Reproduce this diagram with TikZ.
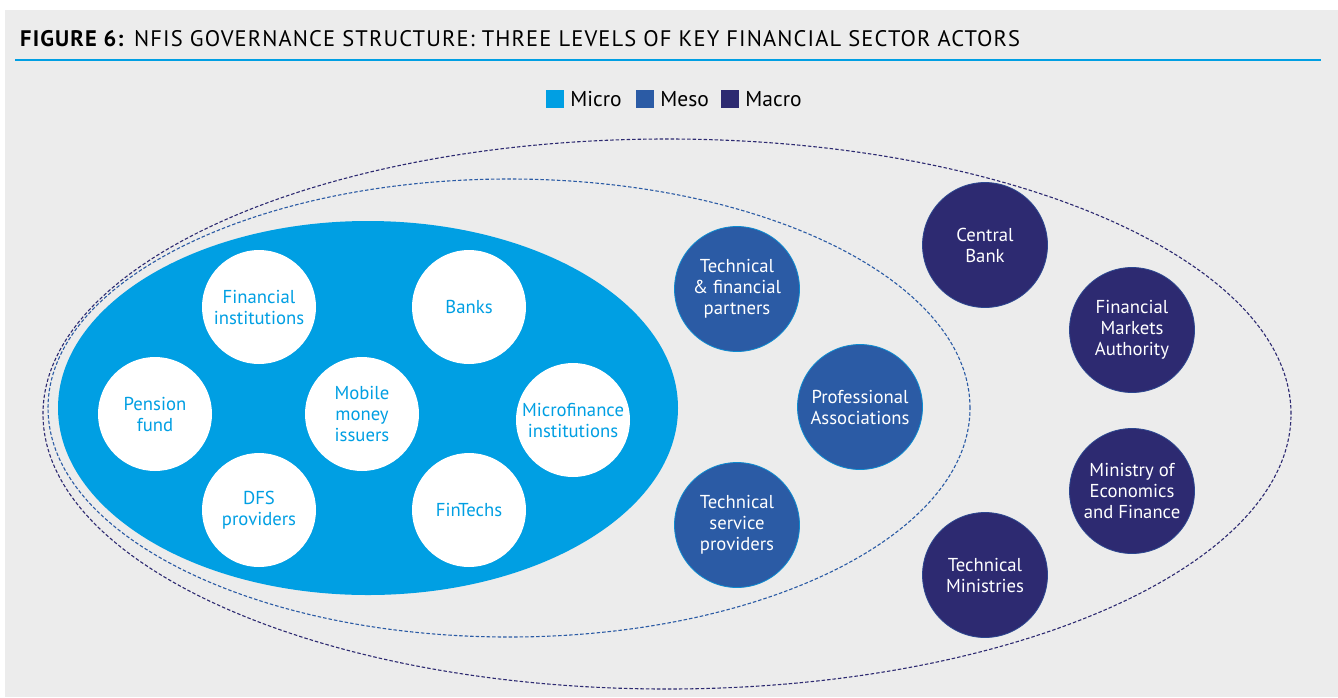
\documentclass[tikz,border=0pt]{standalone}
\usepackage{fontspec}
\setmainfont{PT Sans}
\usetikzlibrary{positioning}

\definecolor{micro}{HTML}{009FE3}
\definecolor{meso}{HTML}{2B5BA5}
\definecolor{macro}{HTML}{2D2A71}
\definecolor{panel}{HTML}{ECECEC}

\tikzset{
	actor/.style={circle, inner sep=0pt, align=center, font=\fontsize{18.7}{21}\selectfont},
	micro actor/.style={actor, fill=white, text=micro, minimum size=114pt},
	meso actor/.style={actor, fill=meso, draw=micro!70!meso, line width=0.8pt, text=white, minimum size=125pt},
	macro actor/.style={actor, fill=macro, draw=meso!60!macro, line width=0.8pt, text=white, minimum size=125pt},
	legend box/.style={minimum size=18pt, inner sep=0pt},
	legend text/.style={right=6pt, inner sep=0pt, font=\fontsize{21.5}{24}\selectfont},
	level ring/.style={dashed, dash pattern=on 3.5pt off 2pt, line width=1.1pt}
}

\begin{document}
\begin{tikzpicture}[x=1pt, y=-1pt]

	\useasboundingbox (0,0) rectangle (1338,697);
	\fill[panel] (5,10) rectangle (1338,697);

	% title
	\node[anchor=base west, inner sep=0pt, font=\fontsize{22.5}{26}\selectfont\addfontfeature{LetterSpace=5}] (title) at (20,46)
		{\textbf{FIGURE 6:} NFIS GOVERNANCE STRUCTURE: THREE LEVELS OF KEY FINANCIAL SECTOR ACTORS};
	\draw[micro, line width=2pt] (15,60) -- (1321,60);

	% legend
	\node[legend box, fill=micro] (lmicro) at (555,99) {};
	\node[legend text, right=6pt of lmicro] (tmicro) {Micro};
	\node[legend box, fill=meso] (lmeso) at (645,99) {};
	\node[legend text, right=6pt of lmeso] (tmeso) {Meso};
	\node[legend box, fill=macro] (lmacro) at (730,99) {};
	\node[legend text, right=6pt of lmacro] (tmacro) {Macro};

	% the three levels
	\draw[level ring, macro] (667,414) ellipse [x radius=624pt, y radius=275pt];
	\draw[level ring, meso] (509,408) ellipse [x radius=461pt, y radius=229pt];
	\fill[micro] (368,408) ellipse [x radius=310pt, y radius=187pt];

	% micro level
	\node[micro actor] (fininst) at (259,307) {Financial\\institutions};
	\node[micro actor] (banks) at (469,307) {Banks};
	\node[micro actor] (pension) at (155,414) {Pension\\fund};
	\node[micro actor] (mobile) at (362,414) {Mobile\\money\\issuers};
	\node[micro actor] (mfi) at (573,420) {Microfinance\\institutions};
	\node[micro actor] (dfs) at (259,510) {DFS\\providers};
	\node[micro actor] (fintech) at (469,510) {FinTechs};

	% meso level
	\node[meso actor] (tfp) at (737,289) {Technical\\\& financial\\partners};
	\node[meso actor] (profassoc) at (860,407) {Professional\\Associations};
	\node[meso actor] (tsp) at (737,525) {Technical\\service\\providers};

	% macro level
	\node[macro actor] (cbank) at (985,245) {Central\\Bank};
	\node[macro actor] (fma) at (1132,330) {Financial\\Markets\\Authority};
	\node[macro actor] (mef) at (1132,491) {Ministry of\\Economics\\and Finance};
	\node[macro actor] (techmin) at (985,575) {Technical\\Ministries};

\end{tikzpicture}
\end{document}
